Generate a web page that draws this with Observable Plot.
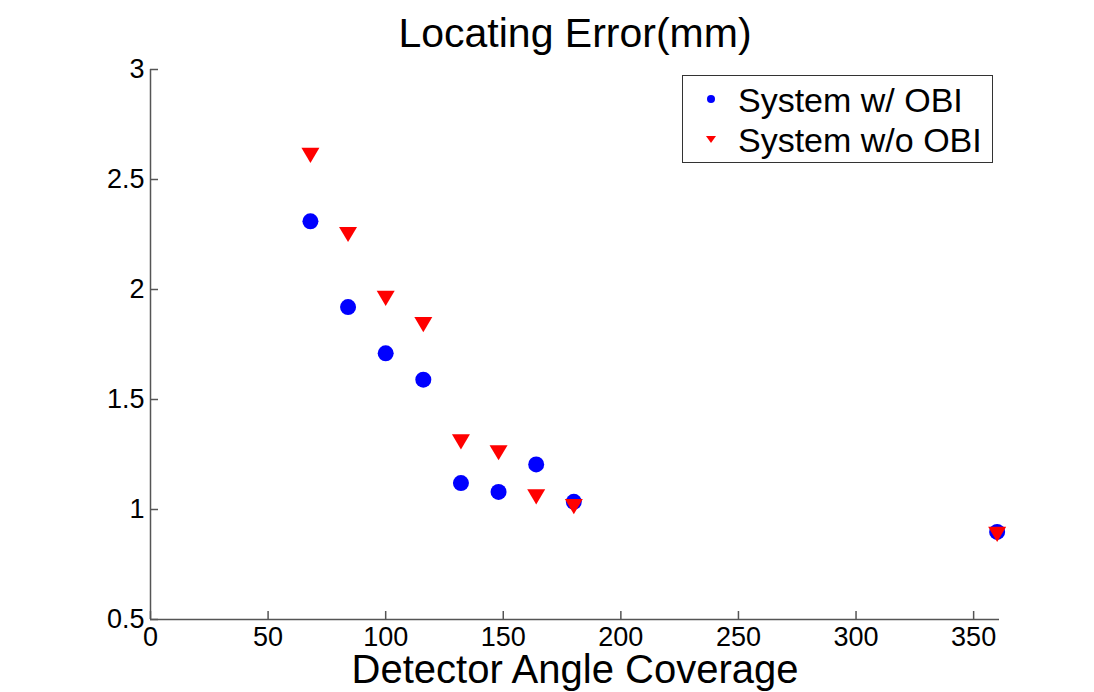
<!DOCTYPE html>
<html>
<head>
<meta charset="utf-8">
<script src="https://cdn.jsdelivr.net/npm/d3@7"></script>
<script src="https://cdn.jsdelivr.net/npm/@observablehq/plot@0.6"></script>
<style>
  html, body { margin: 0; padding: 0; background: #fff; }
  #wrap { position: relative; width: 1094px; height: 692px; font-family: "Liberation Sans", Arial, sans-serif; }
  #legend { position: absolute; left: 682px; top: 75px; width: 309px; height: 86px; border: 1px solid #333; background: #fff; }
</style>
</head>
<body>
<div id="wrap">
  <div id="chart"></div>
  <div id="legend">
    <svg width="309" height="86" style="font-family: 'Liberation Sans', Arial, sans-serif;">
      <circle cx="28" cy="23" r="4" fill="#0000ff"></circle>
      <path d="M23,60 L33,60 L28,67 Z" fill="#ff0000"></path>
      <text x="55" y="36" font-size="34" fill="#000">System w/ OBI</text>
      <text x="55" y="76" font-size="34" fill="#000">System w/o OBI</text>
    </svg>
  </div>
</div>
<script>
// Data
const angles = [68, 84, 100, 116, 132, 148, 164, 180, 360];
const withOBI = [2.31, 1.92, 1.71, 1.59, 1.12, 1.08, 1.205, 1.035, 0.898];
const withoutOBI = [2.61, 2.25, 1.96, 1.84, 1.307, 1.258, 1.057, 1.013, 0.887];
const xTicks = [0, 50, 100, 150, 200, 250, 300, 350];
const yTicks = [0.5, 1, 1.5, 2, 2.5, 3];
const titleText = "Locating Error(mm)";
const xLabelText = "Detector Angle Coverage";

const dataW = angles.map((a, i) => ({angle: a, err: withOBI[i]}));
const dataWo = angles.map((a, i) => ({angle: a, err: withoutOBI[i]}));

// Down-pointing triangle centred on its bounding box
const triangleDown = {
  draw(context, size) {
    const r = Math.sqrt(size / Math.PI);
    const hw = r * 1.125, hh = r * 0.95;
    context.moveTo(-hw, -hh);
    context.lineTo(hw, -hh);
    context.lineTo(0, hh);
    context.closePath();
  }
};

const W = 1094, H = 692;
const mL = 150, mR = 95, mT = 69, mB = 73;
const frameW = W - mL - mR, frameH = H - mT - mB;

const chart = Plot.plot({
  width: W,
  height: H,
  marginLeft: mL,
  marginRight: mR,
  marginTop: mT,
  marginBottom: mB,
  style: {fontFamily: "'Liberation Sans', Arial, sans-serif", color: "#000", background: "#fff", overflow: "visible"},
  x: {domain: [0, 361], label: null},
  y: {domain: [0.5, 3], label: null},
  marks: [
    Plot.ruleY([0.5], {stroke: "#555", strokeWidth: 1.5}),
    Plot.ruleX([0], {stroke: "#555", strokeWidth: 1.5}),
    Plot.ruleX(xTicks, {x: d => d, insetTop: frameH - 8, stroke: "#555", strokeWidth: 1.5}),
    Plot.ruleY(yTicks, {y: d => d, insetRight: frameW - 8, stroke: "#555", strokeWidth: 1.5}),
    Plot.axisX({ticks: xTicks, tickSize: 0, tickPadding: 7, fontSize: 27, tickFormat: d => String(d), fill: "#000", label: null}),
    Plot.axisY({ticks: yTicks, tickSize: 0, tickPadding: 6, fontSize: 27, tickFormat: d => String(d), fill: "#000", label: null}),
    Plot.dot(dataW, {x: "angle", y: "err", r: 8, fill: "#0000ff", symbol: "circle"}),
    Plot.dot(dataWo, {x: "angle", y: "err", r: 8, fill: "#ff0000", symbol: triangleDown}),
    Plot.text([titleText], {frameAnchor: "top", dy: -36, fontSize: 41, lineAnchor: "middle", fill: "#000"}),
    Plot.text([xLabelText], {frameAnchor: "bottom", dy: 51, fontSize: 40, lineAnchor: "middle", fill: "#000"})
  ]
});
document.getElementById("chart").appendChild(chart);
</script>
</body>
</html>
